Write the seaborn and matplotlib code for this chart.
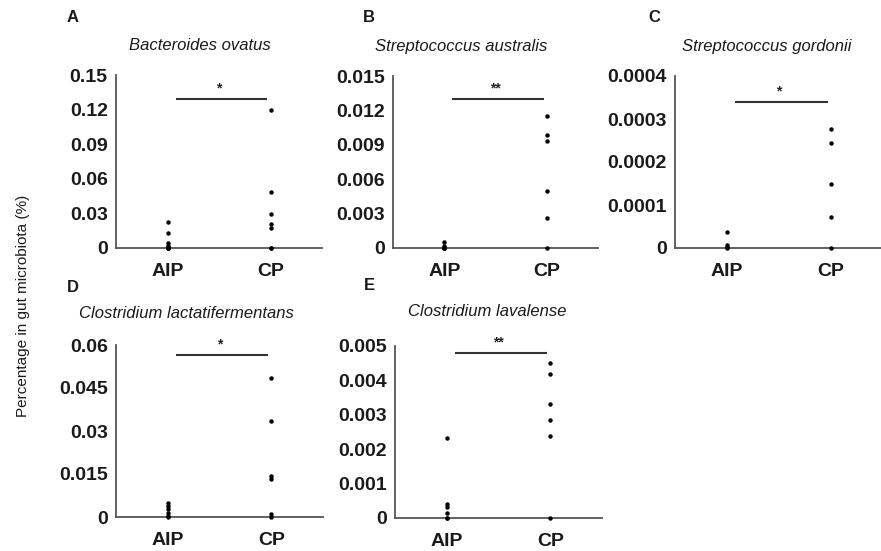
import matplotlib
matplotlib.use("Agg")
import matplotlib.pyplot as plt
import seaborn as sns
import pandas as pd

sns.set_theme(style="white")
plt.rcParams['font.family'] = ['Liberation Sans', 'DejaVu Sans']

groups = ["AIP", "CP"]

# values (% in gut microbiota)
a_aip = [0.0228, 0.0127, 0.0046, 0.0017, 0.0005, 0.0, 0.0, 0.0]
a_cp = [0.1196, 0.0483, 0.0292, 0.0208, 0.0176, 0.0, 0.0]
b_aip = [0.0005, 0.0002, 0.0, 0.0, 0.0]
b_cp = [0.0115, 0.00983, 0.00933, 0.00497, 0.00265, 0.0]
c_aip = [0.000037, 0.000008, 0.000003, 0.0]
c_cp = [0.000276, 0.000245, 0.000149, 0.000072, 0.0]
d_aip = [0.005, 0.0038, 0.0027, 0.0015, 0.0005, 0.0]
d_cp = [0.0484, 0.0334, 0.0143, 0.0132, 0.0012, 0.0]
e_aip = [0.00233, 0.00041, 0.00032, 0.00015, 0.0, 0.0]
e_cp = [0.00452, 0.00419, 0.00332, 0.00286, 0.00239, 0.0]

a_ticks = [0, 0.03, 0.06, 0.09, 0.12, 0.15]
a_labels = ["0", "0.03", "0.06", "0.09", "0.12", "0.15"]
b_ticks = [0, 0.003, 0.006, 0.009, 0.012, 0.015]
b_labels = ["0", "0.003", "0.006", "0.009", "0.012", "0.015"]
c_ticks = [0, 0.0001, 0.0002, 0.0003, 0.0004]
c_labels = ["0", "0.0001", "0.0002", "0.0003", "0.0004"]
d_ticks = [0, 0.015, 0.03, 0.045, 0.06]
d_labels = ["0", "0.015", "0.03", "0.045", "0.06"]
e_ticks = [0, 0.001, 0.002, 0.003, 0.004, 0.005]
e_labels = ["0", "0.001", "0.002", "0.003", "0.004", "0.005"]

titles = ["Bacteroides ovatus", "Streptococcus australis", "Streptococcus gordonii",
          "Clostridium lactatifermentans", "Clostridium lavalense"]
letters = ["A", "B", "C", "D", "E"]
sig_labels = ["*", "**", "*", "*", "**"]
sig_levels = [0.129, 0.013, 0.00034, 0.0566, 0.0048]

panels = [
    (a_aip, a_cp, a_ticks, a_labels),
    (b_aip, b_cp, b_ticks, b_labels),
    (c_aip, c_cp, c_ticks, c_labels),
    (d_aip, d_cp, d_ticks, d_labels),
    (e_aip, e_cp, e_ticks, e_labels),
]

W, H = 881, 551
fig = plt.figure(figsize=(W / 100, H / 100), dpi=100)

# layout in pixels: left, right, top, bottom
boxes = [(116, 322, 75, 248), (393, 598, 76, 248), (675, 883, 76, 248),
         (116, 323, 345, 517), (395, 602, 346, 518)]
title_pos = [(200, 46), (461, 46), (767, 47), (186, 313), (487, 312)]
letter_pos = [(67, 18), (363, 18), (648, 18), (67, 287), (364, 285)]

axis_col = "#555555"
txt_col = "#1a1a1a"
for i, (aip, cp, ticks, labels) in enumerate(panels):
    l, r, t, b = boxes[i]
    ax = fig.add_axes([l / W, 1 - b / H, (r - l) / W, (b - t) / H])
    df = pd.DataFrame({"group": [groups[0]] * len(aip) + [groups[1]] * len(cp),
                       "value": list(aip) + list(cp)})
    sns.stripplot(data=df, x="group", y="value", order=groups, jitter=False,
                  color="black", size=3.2, ax=ax, clip_on=False, zorder=5)
    ax.set_xlim(-0.5, 1.5)
    ax.set_ylim(0, ticks[-1])
    ax.set_yticks(ticks)
    ax.set_yticklabels(labels, fontsize=14, fontweight="bold")
    ax.set_xticks([0, 1])
    ax.set_xticklabels(groups, fontsize=14, fontweight="bold")
    ax.tick_params(axis="x", length=0, pad=11, labelcolor=txt_col)
    ax.tick_params(axis="y", direction="in", length=2.5, width=1, color=axis_col,
                   pad=6, labelcolor=txt_col)
    ax.set_xlabel("")
    ax.set_ylabel("")
    for s in ["top", "right"]:
        ax.spines[s].set_visible(False)
    for s in ["left", "bottom"]:
        ax.spines[s].set_color(axis_col)
        ax.spines[s].set_linewidth(1.3)
    ax.patch.set_alpha(0)
    # significance bar
    ax.plot([0.08, 0.97], [sig_levels[i]] * 2, color="#333333", lw=1.5,
            solid_capstyle="butt")
    ax.text(0.5, sig_levels[i] + ticks[-1] * 0.02, sig_labels[i], ha="center",
            va="bottom", fontsize=10, fontweight="bold", color="#222222")
    tx, ty = title_pos[i]
    fig.text(tx / W, 1 - ty / H, titles[i], ha="center", va="center",
             fontsize=12, style="italic", color=txt_col)
    lx, ly = letter_pos[i]
    fig.text(lx / W, 1 - ly / H, letters[i], ha="left", va="center",
             fontsize=12, fontweight="bold", color=txt_col)

fig.text(23 / W, 1 - 306 / H, "Percentage in gut microbiota (%)", rotation=90,
         ha="center", va="center", fontsize=11, color=txt_col)

fig.savefig("out.png", dpi=100)
